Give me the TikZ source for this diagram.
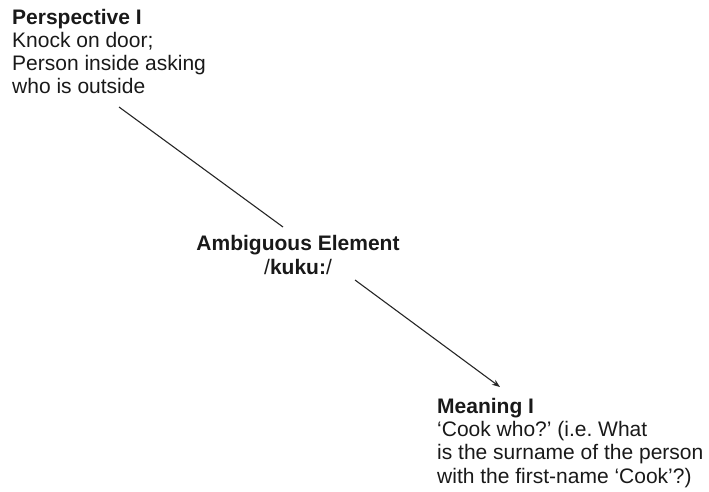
\documentclass[tikz,border=0pt]{standalone}
\usepackage{fontspec}
\setmainfont{Liberation Sans}
\usetikzlibrary{arrows.meta}
\frenchspacing
\begin{document}
\begin{tikzpicture}[x=1pt,y=-1pt,
  txt/.style={inner sep=0pt, text=black!90, font=\fontsize{21}{23.3}\selectfont},
  conn/.style={draw=black!85, line width=1.1pt},
  arr/.style={conn, -{Stealth[length=8pt,width=6pt]}}]
\useasboundingbox (0,0) rectangle (709,492);
\node[txt, anchor=base west, align=left] (persp) at (12,94)
  {\textbf{Perspective I}\\Knock on door;\\Person inside asking\\who is outside};
\node[txt, anchor=base, align=center] (amb) at (298,274)
  {\textbf{Ambiguous Element}\\/\textbf{kuku:}/};
\node[txt, anchor=base west, align=left] (mean) at (437,483)
  {\textbf{Meaning I}\\‘Cook who?’ (i.e.\ What\\is the surname of the person\\with the first-name ‘Cook’?)};
\coordinate (c1) at (119,107);
\coordinate (c2) at (283,227);
\coordinate (c3) at (355,280);
\coordinate (c4) at (500,387);
\draw[conn] (c1) -- (c2);
\draw[arr] (c3) -- (c4);
\end{tikzpicture}
\end{document}
